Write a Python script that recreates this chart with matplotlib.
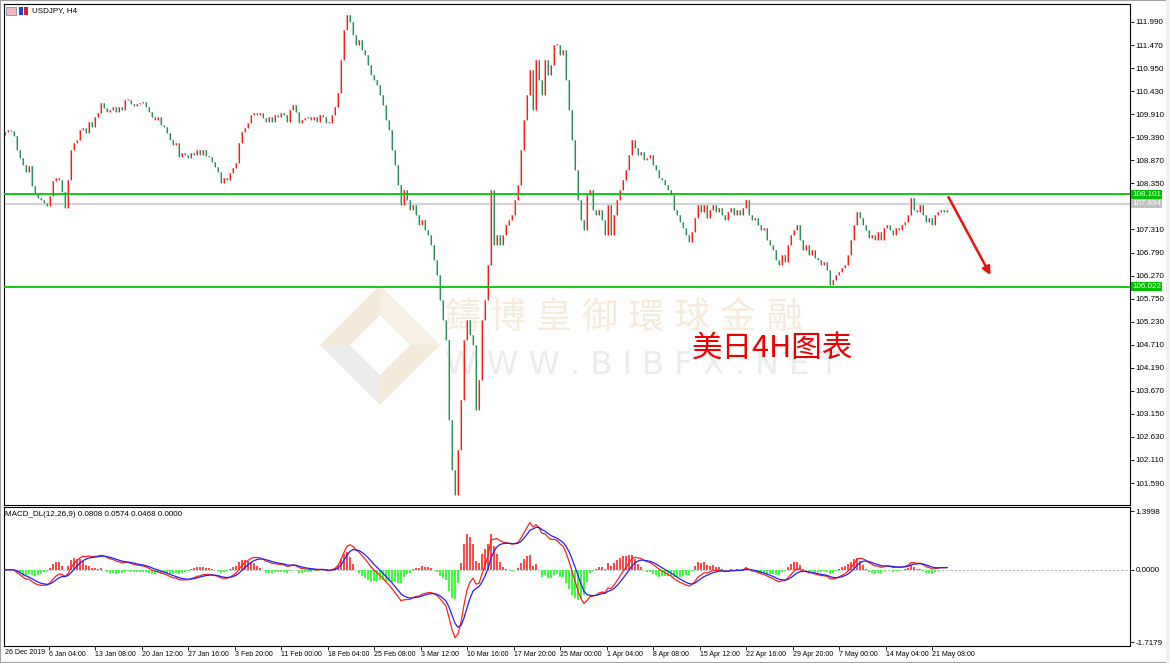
import numpy as np
import pandas as pd
import matplotlib
matplotlib.use("Agg")
import matplotlib.pyplot as plt
import matplotlib.transforms as mtransforms
from matplotlib.patches import Polygon, Rectangle

plt.rcParams['font.family'] = ['Liberation Sans Narrow', 'Liberation Sans', 'DejaVu Sans']

# USDJPY H4 closes, one value for every two H4 bars (26 Dec 2019 - 22 May 2020)
closes = [
    109.51, 109.55, 109.53, 109.42, 109.10, 108.92, 108.76, 108.61, 108.74, 108.29,
    108.11, 108.02, 107.97, 107.91, 107.84, 108.06, 108.40, 108.47, 108.43, 108.15,
    107.79, 108.43, 109.10, 109.26, 109.33, 109.55, 109.60, 109.49, 109.73, 109.62,
    109.85, 109.94, 110.16, 110.05, 109.96, 110.00, 110.07, 109.96, 110.07, 110.00,
    110.23, 110.23, 110.14, 110.10, 110.14, 110.16, 110.18, 110.07, 109.96, 109.85,
    109.78, 109.85, 109.67, 109.62, 109.49, 109.33, 109.22, 109.26, 108.94, 109.03,
    108.99, 108.92, 109.03, 108.99, 109.10, 108.99, 109.10, 108.97, 108.94, 108.83,
    108.72, 108.61, 108.36, 108.47, 108.43, 108.58, 108.70, 108.81, 109.26, 109.51,
    109.60, 109.71, 109.89, 109.94, 109.89, 109.94, 109.82, 109.73, 109.85, 109.73,
    109.89, 109.85, 109.94, 109.89, 109.73, 110.00, 110.12, 109.96, 109.71, 109.78,
    109.82, 109.85, 109.78, 109.85, 109.73, 109.89, 109.85, 109.71, 109.71, 109.89,
    110.07, 110.39, 111.13, 111.81, 112.15, 111.99, 111.70, 111.47, 111.58, 111.36,
    111.25, 111.02, 110.79, 110.68, 110.57, 110.34, 110.12, 109.78, 109.55, 109.10,
    108.76, 108.31, 107.86, 108.20, 107.97, 107.75, 107.86, 107.64, 107.41, 107.52,
    107.30, 107.18, 106.96, 106.62, 106.28, 105.72, 105.27, 104.82, 103.01, 101.88,
    101.32, 102.33, 103.46, 104.82, 105.27, 104.93, 104.70, 103.24, 103.91, 105.27,
    105.72, 106.51, 108.20, 106.96, 107.18, 106.96, 107.18, 107.41, 107.52, 107.64,
    107.97, 108.31, 109.10, 109.78, 110.34, 110.91, 110.00, 111.13, 110.68, 110.34,
    111.13, 110.79, 111.02, 111.47, 111.47, 111.25, 111.36, 110.68, 110.00, 109.33,
    108.65, 107.97, 107.52, 107.30, 108.09, 108.20, 107.75, 107.64, 107.75, 107.52,
    107.18, 107.86, 107.18, 107.64, 107.97, 108.20, 108.43, 108.65, 108.99, 109.33,
    109.15, 108.99, 109.06, 108.88, 108.92, 108.99, 108.76, 108.65, 108.47, 108.43,
    108.31, 108.20, 108.09, 107.75, 107.64, 107.48, 107.34, 107.18, 107.03, 107.25,
    107.57, 107.86, 107.70, 107.86, 107.57, 107.75, 107.86, 107.70, 107.79, 107.64,
    107.52, 107.70, 107.79, 107.64, 107.75, 107.64, 107.79, 107.97, 107.64, 107.52,
    107.57, 107.41, 107.30, 107.34, 107.07, 106.96, 106.85, 106.62, 106.51, 106.73,
    106.57, 106.96, 107.18, 107.30, 107.41, 107.07, 106.85, 106.96, 106.73, 106.85,
    106.66, 106.62, 106.51, 106.57, 106.40, 106.06, 106.17, 106.28, 106.35, 106.44,
    106.51, 106.73, 107.07, 107.41, 107.70, 107.57, 107.41, 107.30, 107.12, 107.18,
    107.07, 107.25, 107.07, 107.34, 107.41, 107.30, 107.18, 107.34, 107.30, 107.41,
    107.48, 107.64, 108.02, 107.75, 107.70, 107.86, 107.64, 107.48, 107.57, 107.41,
    107.64, 107.70, 107.75, 107.70, 107.75,
]
firstOpen = 109.45
barsPerValue = 2

# Time axis labels (bar index of each label)
dateLabels = ["6 Jan 04:00", "13 Jan 08:00", "20 Jan 12:00", "27 Jan 16:00", "3 Feb 20:00",
              "11 Feb 00:00", "18 Feb 04:00", "25 Feb 08:00", "3 Mar 12:00", "10 Mar 16:00",
              "17 Mar 20:00", "25 Mar 00:00", "1 Apr 04:00", "8 Apr 08:00", "15 Apr 12:00",
              "22 Apr 16:00", "29 Apr 20:00", "7 May 00:00", "14 May 04:00", "21 May 08:00"]
dateBars = [29, 60, 91, 122, 153, 184, 215, 246, 277, 308,
            339, 370, 401, 432, 463, 494, 525, 556, 587, 618]

priceTicks = [101.590, 102.110, 102.630, 103.150, 103.670, 104.190, 104.710, 105.230,
              105.750, 106.270, 106.790, 107.310, 107.830, 108.350, 108.870, 109.390,
              109.910, 110.430, 110.950, 111.470, 111.990]
macdTicks = [1.3998, 0.0, -1.7179]

resistance = 108.101
support = 106.022
lastPrice = 107.894
arrowStart = (629, 108.04)
arrowEnd = (657, 106.28)

# Layout helpers (pixel boxes)
W, H = 1170, 663
def box(l, t, r, b):
    return [l / W, 1 - b / H, (r - l) / W, (b - t) / H]
def fpt(x, y):
    return (x / W, 1 - y / H)

fig = plt.figure(figsize=(W / 100, H / 100), dpi=100)
fig.patch.set_facecolor("white")
ax = fig.add_axes(box(4, 4, 1130, 505))
axm = fig.add_axes(box(4, 507, 1130, 646), sharex=ax)

# Candles
c = np.array(closes)
o = np.concatenate(([firstOpen], c[:-1]))
x = np.arange(len(c)) * barsPerValue
lo = np.minimum(o, c)
hi = np.maximum(np.maximum(o, c), lo + 0.03)
up = c >= o
ax.vlines(x[up], lo[up], hi[up], colors="#ffa0a0", lw=1.5, zorder=2)
ax.vlines(x[~up], lo[~up], hi[~up], colors="#a3d2b8", lw=1.5, zorder=2)
ax.vlines(x[up], lo[up], hi[up], colors="#ff1a1a", lw=0.75, zorder=3)
ax.vlines(x[~up], lo[~up], hi[~up], colors="#2e8b57", lw=0.75, zorder=3)

# Levels
ax.axhline(lastPrice, color="#d4d4d4", lw=1.6, zorder=1)
ax.axhline(resistance, color="#00c800", lw=1.3, zorder=4)
ax.axhline(support, color="#00c800", lw=1.3, zorder=4)
trans = mtransforms.blended_transform_factory(ax.transAxes, ax.transData)
for lvl, fc in [(lastPrice, "#c0c0c0"), (resistance, "#00c000"), (support, "#00c000")]:
    ax.text(1.002, lvl, "%.3f" % lvl, transform=trans, fontsize=5.8, color="white",
            va="center", ha="left", zorder=6, clip_on=False,
            bbox=dict(boxstyle="square,pad=0.15", fc=fc, ec="none"))

# Arrow
ax.annotate("", xy=arrowEnd, xytext=arrowStart,
            arrowprops=dict(arrowstyle="-|>", color="#ee1111", lw=1.8, mutation_scale=12,
                            shrinkA=0, shrinkB=0), zorder=6)

ax.set_xlim(-0.7, 750)
ax.set_ylim(101.094, 112.396)
ax.yaxis.tick_right()
ax.set_yticks(priceTicks)
# 107.830 sits under the grey last-price box, as in the terminal
ax.set_yticklabels(["" if abs(t - 107.83) < 1e-6 else "%.3f" % t for t in priceTicks])
ax.tick_params(axis="y", labelsize=5.8, length=3, width=0.6, pad=1)
ax.tick_params(axis="x", bottom=False, labelbottom=False)
for s in ax.spines.values():
    s.set_linewidth(0.8)

# Watermark logo and text
wm = fig.transFigure
outer = [(320, 345), (380, 285), (440, 345), (380, 405)]
inner = [(350, 345), (380, 315), (410, 345), (380, 375)]
def quad(i, col):
    pts = [outer[i], outer[(i + 1) % 4], inner[(i + 1) % 4], inner[i]]
    ax.add_patch(Polygon([fpt(*p) for p in pts], closed=True, transform=wm,
                         fc=col, ec="none", zorder=0.5))
quad(0, "#f4ead9")
quad(1, "#f7efe3")
quad(2, "#f4ead9")
quad(3, "#ececec")
wmChars = "鑄博皇御環球金融"
for i, ch in enumerate(wmChars):
    ax.text(*fpt(462 + 46 * i, 318), ch, transform=wm, fontsize=26, color="#f6ebdc",
            ha="center", va="center", family=["Noto Sans CJK TC", "DejaVu Sans"], zorder=0.6)
ax.text(*fpt(642, 366), "W W W . B I B F X . N E T", transform=wm, fontsize=23,
        color="#ececec", ha="center", va="center", family="DejaVu Sans", zorder=0.6)

ax.text(*fpt(772, 348), "美日4H图表", transform=wm, fontsize=22, color="#ee0000",
        ha="center", va="center", family=["Noto Sans CJK SC", "DejaVu Sans"], zorder=7)

ax.text(*fpt(32, 11), "USDJPY, H4", transform=wm, fontsize=5.8, va="center", ha="left")
ax.add_patch(Rectangle(fpt(6, 15), 10 / W, 8 / H, transform=wm, fc="#f2b8c0", ec="#6080c0", lw=0.5))
ax.add_patch(Rectangle(fpt(19, 15), 4 / W, 8 / H, transform=wm, fc="#2040e0", ec="none"))
ax.add_patch(Rectangle(fpt(24, 15), 4 / W, 8 / H, transform=wm, fc="#e02020", ec="none"))

# MACD (DIF, DEA, 2*(DIF-DEA)) from the closes
s = pd.Series(closes)
dif = s.ewm(span=12 / barsPerValue, adjust=False).mean() - s.ewm(span=26 / barsPerValue, adjust=False).mean()
dea = dif.ewm(span=9 / barsPerValue, adjust=False).mean()
hist = 2 * (dif - dea)
axm.bar(x, hist, width=1.3, color=np.where(hist >= 0, "#ff4a4a", "#3cff3c"), zorder=2)
axm.plot(x, dif, color="#ff2020", lw=0.9, zorder=3)
axm.plot(x, dea, color="#2020ff", lw=0.9, zorder=3)
axm.axhline(0, color="#b0b0b0", lw=0.6, ls=(0, (3, 2)), zorder=1)
axm.set_ylim(-1.81, 1.495)
axm.yaxis.tick_right()
axm.set_yticks(macdTicks)
axm.set_yticklabels(["%.4f" % t for t in macdTicks])
axm.tick_params(axis="y", labelsize=5.8, length=3, width=0.6, pad=1)
axm.set_xticks(dateBars)
axm.set_xticklabels(dateLabels, ha="left")
axm.tick_params(axis="x", labelsize=5.0, length=3, width=0.6, pad=0.5)
for s_ in axm.spines.values():
    s_.set_linewidth(0.8)
axm.text(*fpt(5, 514), "MACD_DL(12,26,9) 0.0808 0.0574 0.0468 0.0000", transform=wm,
         fontsize=5.8, va="center", ha="left")
fig.text(*fpt(5, 653), "26 Dec 2019", fontsize=5.0, va="center", ha="left")

# Window frame
fig.add_artist(Rectangle((0, 0), 1, 1, transform=fig.transFigure, fill=False, ec="#a0a0a0", lw=1.5))
fig.add_artist(Rectangle(fpt(1166, 663), 4 / W, 1, transform=fig.transFigure, fc="#f0f0f0", ec="none"))

fig.savefig("out.png", dpi=100)
